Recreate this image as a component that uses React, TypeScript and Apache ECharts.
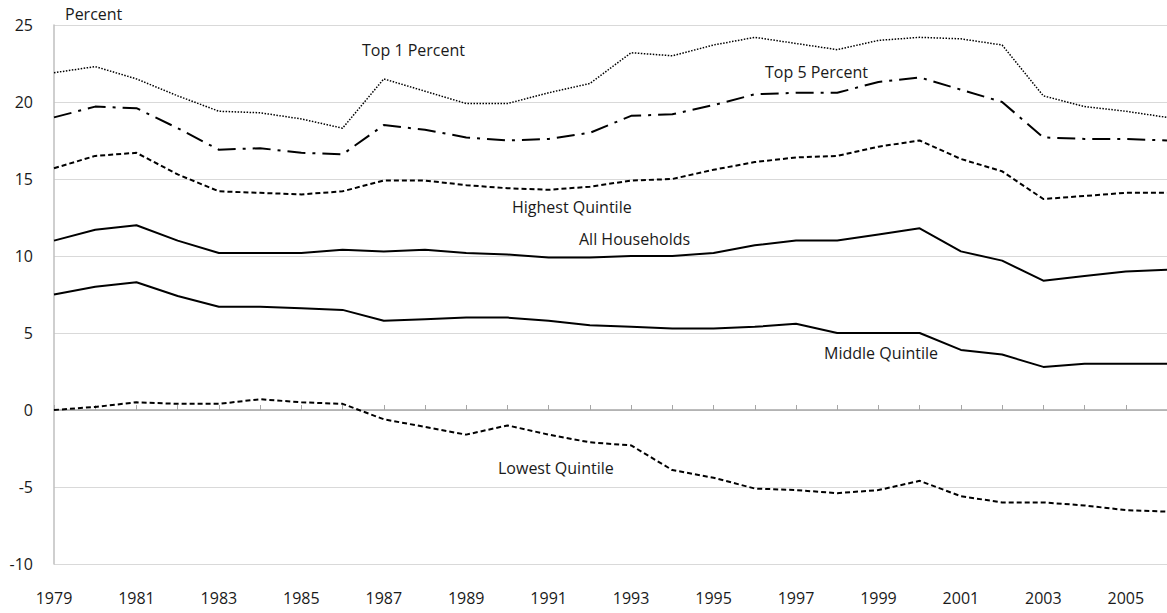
import React, { useEffect, useRef } from "react";
import * as echarts from "echarts";

const years = [
  "1979", "1980", "1981", "1982", "1983", "1984", "1985", "1986", "1987", "1988",
  "1989", "1990", "1991", "1992", "1993", "1994", "1995", "1996", "1997", "1998",
  "1999", "2000", "2001", "2002", "2003", "2004", "2005", "2006",
];

const top1Percent = [
  21.9, 22.3, 21.5, 20.4, 19.4, 19.3, 18.9, 18.3, 21.5, 20.7,
  19.9, 19.9, 20.6, 21.2, 23.2, 23.0, 23.7, 24.2, 23.8, 23.4,
  24.0, 24.2, 24.1, 23.7, 20.4, 19.7, 19.4, 19.0,
];
const top5Percent = [
  19.0, 19.7, 19.6, 18.3, 16.9, 17.0, 16.7, 16.6, 18.5, 18.2,
  17.7, 17.5, 17.6, 18.0, 19.1, 19.2, 19.8, 20.5, 20.6, 20.6,
  21.3, 21.6, 20.8, 20.0, 17.7, 17.6, 17.6, 17.5,
];
const highestQuintile = [
  15.7, 16.5, 16.7, 15.3, 14.2, 14.1, 14.0, 14.2, 14.9, 14.9,
  14.6, 14.4, 14.3, 14.5, 14.9, 15.0, 15.6, 16.1, 16.4, 16.5,
  17.1, 17.5, 16.3, 15.5, 13.7, 13.9, 14.1, 14.1,
];
const allHouseholds = [
  11.0, 11.7, 12.0, 11.0, 10.2, 10.2, 10.2, 10.4, 10.3, 10.4,
  10.2, 10.1, 9.9, 9.9, 10.0, 10.0, 10.2, 10.7, 11.0, 11.0,
  11.4, 11.8, 10.3, 9.7, 8.4, 8.7, 9.0, 9.1,
];
const middleQuintile = [
  7.5, 8.0, 8.3, 7.4, 6.7, 6.7, 6.6, 6.5, 5.8, 5.9,
  6.0, 6.0, 5.8, 5.5, 5.4, 5.3, 5.3, 5.4, 5.6, 5.0,
  5.0, 5.0, 3.9, 3.6, 2.8, 3.0, 3.0, 3.0,
];
const lowestQuintile = [
  0.0, 0.2, 0.5, 0.4, 0.4, 0.7, 0.5, 0.4, -0.6, -1.1,
  -1.6, -1.0, -1.6, -2.1, -2.3, -3.9, -4.4, -5.1, -5.2, -5.4,
  -5.2, -4.6, -5.6, -6.0, -6.0, -6.2, -6.5, -6.6,
];

const seriesNames = [
  "Top 1 Percent",
  "Top 5 Percent",
  "Highest Quintile",
  "All Households",
  "Middle Quintile",
  "Lowest Quintile",
];

const FONT = "'Open Sans', 'Liberation Sans', sans-serif";
const TEXT = "#1a1a1a";

export default function App() {
  const ref = useRef<HTMLDivElement>(null);

  useEffect(() => {
    if (!ref.current) return;
    const chart = echarts.init(ref.current, null, { renderer: "svg" });

    const mk = (name: string, data: number[], type: any, width: number) => ({
      name,
      type: "line",
      data,
      symbol: "none",
      silent: true,
      xAxisIndex: 0,
      yAxisIndex: 0,
      lineStyle: { color: "#000", width, type, cap: "butt" },
    });

    const label = (text: string, x: number, y: number) => ({
      type: "text",
      x,
      y,
      silent: true,
      style: {
        text,
        fill: TEXT,
        font: `16px ${FONT}`,
        textAlign: "left",
        textVerticalAlign: "middle",
      },
    });

    chart.setOption({
      animation: false,
      backgroundColor: "#fff",
      grid: { left: 54, right: 0, top: 25, bottom: 49, containLabel: false },
      xAxis: [
        {
          type: "category",
          data: years,
          boundaryGap: false,
          axisLine: { show: true, onZero: true, lineStyle: { color: "#a6a6a6", width: 1.5 } },
          axisTick: { show: true, inside: true, length: 5, interval: 0, lineStyle: { color: "#a6a6a6", width: 1 } },
          axisLabel: { show: false },
          splitLine: { show: false },
        },
        {
          type: "category",
          data: years,
          position: "bottom",
          boundaryGap: false,
          axisLine: { show: false, onZero: false },
          axisTick: { show: false },
          axisLabel: {
            show: true,
            interval: 1,
            margin: 26,
            color: TEXT,
            fontSize: 16,
            fontFamily: FONT,
          },
          splitLine: { show: false },
        },
      ],
      yAxis: {
        type: "value",
        min: -10,
        max: 25,
        interval: 5,
        axisLine: { show: true, lineStyle: { color: "#bfbfbf", width: 1.5 } },
        axisTick: { show: false },
        axisLabel: { margin: 21, color: TEXT, fontSize: 16, fontFamily: FONT },
        splitLine: { show: true, lineStyle: { color: "#d9d9d9", width: 1 } },
      },
      series: [
        mk(seriesNames[0], top1Percent, [1.5, 1.5], 1.5),
        mk(seriesNames[1], top5Percent, [18, 7, 3, 7], 2),
        mk(seriesNames[2], highestQuintile, [5, 3], 2),
        mk(seriesNames[3], allHouseholds, "solid", 2),
        mk(seriesNames[4], middleQuintile, "solid", 2),
        mk(seriesNames[5], lowestQuintile, [5, 3], 2),
      ],
      graphic: [
        label("Percent", 65, 14),
        label(seriesNames[0], 362, 50),
        label(seriesNames[1], 765, 72),
        label(seriesNames[2], 512, 207),
        label(seriesNames[3], 579, 239),
        label(seriesNames[4], 824, 353),
        label(seriesNames[5], 498, 468),
      ],
    });

    return () => chart.dispose();
  }, []);

  return (
    <div
      ref={ref}
      style={{ position: "fixed", left: 0, top: 0, width: 1167, height: 613 }}
    />
  );
}
